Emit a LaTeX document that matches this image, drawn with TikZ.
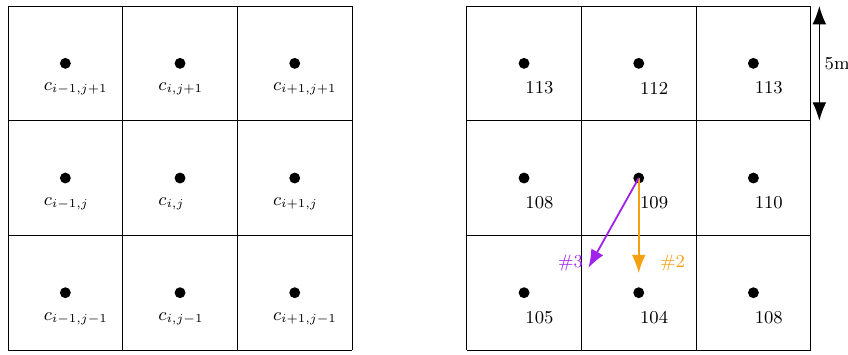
\documentclass[tikz,border=0pt]{standalone}
\usepackage{tikz}
\usepackage{xcolor}
\usetikzlibrary{arrows.meta}
\definecolor{moveorange}{RGB}{245,160,15}
\definecolor{movepurple}{RGB}{160,35,235}

\begin{document}
\begin{tikzpicture}[x=1cm,y=1cm,
  dot/.style={circle, fill=black, inner sep=0pt, minimum size=0.19cm},
  lab/.style={anchor=west, font=\small},
  num/.style={anchor=west, font=\small},
  move/.style={-{Latex[length=3.2mm,width=2.4mm]}, line width=0.9pt}]
\useasboundingbox (-0.14,-0.07) rectangle (14.65,6.105);
% left grid: symbolic cells
\draw (0,0) grid[step=2] (6,6);
\node[dot] (a13) at (1,5) {};
\node[dot] (a23) at (3,5) {};
\node[dot] (a33) at (5,5) {};
\node[dot] (a12) at (1,3) {};
\node[dot] (a22) at (3,3) {};
\node[dot] (a32) at (5,3) {};
\node[dot] (a11) at (1,1) {};
\node[dot] (a21) at (3,1) {};
\node[dot] (a31) at (5,1) {};
\node[lab] at (0.5,4.55) {$c_{i-1,j+1}$};
\node[lab] at (2.5,4.55) {$c_{i,j+1}$};
\node[lab] at (4.5,4.55) {$c_{i+1,j+1}$};
\node[lab] at (0.5,2.55) {$c_{i-1,j}$};
\node[lab] at (2.5,2.55) {$c_{i,j}$};
\node[lab] at (4.5,2.55) {$c_{i+1,j}$};
\node[lab] at (0.5,0.55) {$c_{i-1,j-1}$};
\node[lab] at (2.5,0.55) {$c_{i,j-1}$};
\node[lab] at (4.5,0.55) {$c_{i+1,j-1}$};
% right grid: heights
\draw (8,0) grid[step=2] (14,6);
\node[dot] (b13) at (9,5) {};
\node[dot] (b23) at (11,5) {};
\node[dot] (b33) at (13,5) {};
\node[dot] (b12) at (9,3) {};
\node[dot] (b22) at (11,3) {};
\node[dot] (b32) at (13,3) {};
\node[dot] (b11) at (9,1) {};
\node[dot] (b21) at (11,1) {};
\node[dot] (b31) at (13,1) {};
\node[num] at (8.9,4.57) {113};
\node[num] at (10.9,4.57) {112};
\node[num] at (12.9,4.57) {113};
\node[num] at (8.9,2.57) {108};
\node[num] at (10.9,2.57) {109};
\node[num] at (12.9,2.57) {110};
\node[num] at (8.9,0.57) {105};
\node[num] at (10.9,0.57) {104};
\node[num] at (12.9,0.57) {108};
% flow directions
\coordinate (s2) at (11,1.34);
\coordinate (s3) at (10.12,1.43);
\draw[move, moveorange] (b22.center) -- (s2);
\draw[move, movepurple] (b22.center) -- (s3);
\node[text=moveorange, font=\small] (l2) at (11.59,1.52) {\#2};
\node[text=movepurple, font=\small] (l3) at (9.81,1.52) {\#3};
% cell size
\coordinate (t) at (14.15,6);
\coordinate (u) at (14.15,4);
\draw[{Latex[length=3.2mm,width=2.4mm]}-{Latex[length=3.2mm,width=2.4mm]}, line width=0.6pt] (t) -- (u);
\node[anchor=west, font=\small] (size) at (14.12,5) {5m};
\end{tikzpicture}
\end{document}
